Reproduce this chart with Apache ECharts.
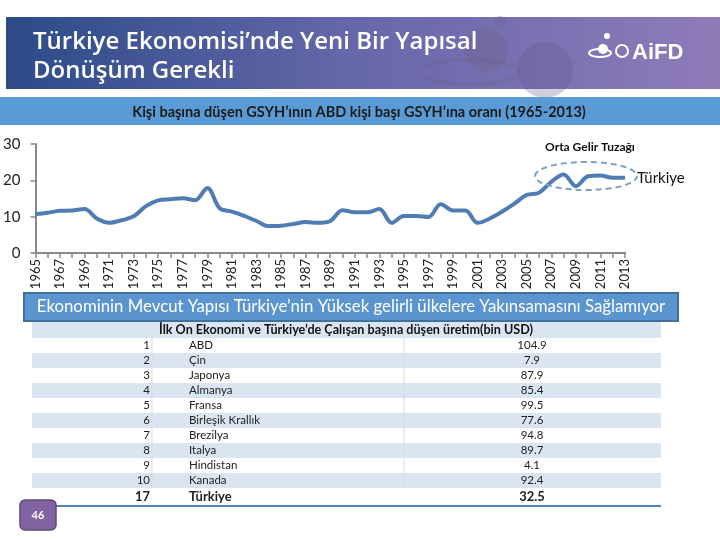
<!DOCTYPE html>
<html>
<head>
<meta charset="utf-8">
<script src="https://cdn.jsdelivr.net/npm/echarts@6/dist/echarts.min.js"></script>
<style>
  html, body { margin: 0; padding: 0; background: #fff; }
  #chart { width: 720px; height: 540px; }
</style>
</head>
<body>
<div id="chart"></div>
<script>
// Türkiye kişi başı GSYH / ABD kişi başı GSYH (%)
const years = ['1965','1966','1967','1968','1969','1970','1971','1972','1973','1974',
  '1975','1976','1977','1978','1979','1980','1981','1982','1983','1984',
  '1985','1986','1987','1988','1989','1990','1991','1992','1993','1994',
  '1995','1996','1997','1998','1999','2000','2001','2002','2003','2004',
  '2005','2006','2007','2008','2009','2010','2011','2012','2013'];
const ratioTR = [10.7, 11.1, 11.6, 11.7, 12.1, 9.5, 8.3, 9.0, 10.1, 12.9,
  14.5, 14.8, 15.1, 14.5, 17.9, 12.3, 11.4, 10.2, 8.8, 7.4,
  7.5, 8.0, 8.5, 8.3, 8.8, 11.8, 11.2, 11.2, 12.1, 8.3,
  10.2, 10.2, 9.9, 13.4, 11.7, 11.7, 8.3, 9.5, 11.4, 13.6,
  16.0, 16.6, 19.6, 21.6, 18.4, 21.1, 21.3, 20.7, 20.7];
const yTicks = [0, 10, 20, 30];

// tablo: ilk on ekonomi ve Türkiye
const ranks = ['1','2','3','4','5','6','7','8','9','10','17'];
const countries = ['ABD','Çin','Japonya','Almanya','Fransa','Birleşik Krallık','Brezilya','Italya','Hindistan','Kanada','Türkiye'];
const outputPerWorker = ['104.9','7.9','87.9','85.4','99.5','77.6','94.8','89.7','4.1','92.4','32.5'];

const FONT = 'Lato, "Open Sans", sans-serif';

const myChart = echarts.init(document.getElementById('chart'), null, { renderer: 'canvas' });

// başlık, bant ve tablo grafikleri
const graphics = [
  {
    type: 'rect', z: 0,
    shape: { x: 6, y: 17, width: 714, height: 72 },
    style: {
      fill: new echarts.graphic.LinearGradient(0, 0, 1, 0, [
        { offset: 0, color: '#2c4b88' },
        { offset: 0.5, color: '#6768ab' },
        { offset: 1, color: '#8f7bb8' }
      ])
    }
  },
  // arka plandaki soluk gezegen süsü
  { type: 'circle', shape: { cx: 486, cy: 50, r: 22 }, style: { fill: 'rgba(110,100,140,0.4)' } },
  { type: 'circle', shape: { cx: 545, cy: 70, r: 28 }, style: { fill: 'rgba(100,90,140,0.3)' } },
  { type: 'ellipse', shape: { cx: 470, cy: 72, rx: 50, ry: 12 }, style: { fill: 'none', stroke: 'rgba(110,100,140,0.3)', lineWidth: 4 } },
  { type: 'circle', shape: { cx: 500, cy: 22, r: 6 }, style: { fill: 'rgba(110,100,140,0.35)' } },
  {
    type: 'text',
    style: { x: 33, y: 42, text: 'Türkiye Ekonomisi’nde Yeni Bir Yapısal', fill: '#fff',
      font: '600 24px "Open Sans", sans-serif', textVerticalAlign: 'middle' }
  },
  {
    type: 'text',
    style: { x: 33, y: 71, text: 'Dönüşüm Gerekli', fill: '#fff',
      font: '600 24px "Open Sans", sans-serif', textVerticalAlign: 'middle' }
  },
  // AiFD logosu
  { type: 'ellipse', shape: { cx: 600, cy: 53, rx: 11, ry: 4 }, style: { fill: 'none', stroke: '#fff', lineWidth: 2 } },
  { type: 'circle', shape: { cx: 603, cy: 49, r: 5 }, style: { fill: '#fff' } },
  { type: 'circle', shape: { cx: 607, cy: 36, r: 3 }, style: { fill: '#fff' } },
  { type: 'circle', shape: { cx: 622, cy: 51, r: 6 }, style: { fill: 'none', stroke: '#fff', lineWidth: 2 } },
  {
    type: 'text',
    style: { x: 632, y: 53, text: 'AiFD', fill: '#fff',
      font: 'bold 22px Arial, "Liberation Sans", sans-serif', textVerticalAlign: 'middle' }
  },
  { type: 'rect', shape: { x: 0, y: 97, width: 720, height: 28 }, style: { fill: '#5b9bd5' } },
  {
    type: 'text',
    style: { x: 359, y: 112, text: 'Kişi başına düşen GSYH’ının ABD kişi başı GSYH’ına oranı (1965-2013)',
      fill: '#1b1b1b', font: 'bold 14.5px ' + FONT, textAlign: 'center', textVerticalAlign: 'middle' }
  },
  // orta gelir tuzağı işareti
  {
    type: 'ellipse', z: 10,
    shape: { cx: 586, cy: 176, rx: 51, ry: 14 },
    style: { fill: 'none', stroke: '#7ba3c2', lineWidth: 2, lineDash: [6, 4] }
  },
  {
    type: 'text',
    style: { x: 590, y: 147, text: 'Orta Gelir Tuzağı', fill: '#111',
      font: 'bold 12px ' + FONT, textAlign: 'center', textVerticalAlign: 'middle' }
  },
  // tablo başlık çubuğu
  {
    type: 'rect', shape: { x: 24, y: 293, width: 654, height: 28 },
    style: { fill: '#5b95d0', stroke: '#41709f', lineWidth: 2 }
  },
  {
    type: 'text',
    style: { x: 351, y: 307, text: 'Ekonominin Mevcut Yapısı Türkiye’nin Yüksek gelirli ülkelere Yakınsamasını Sağlamıyor',
      fill: '#fff', font: '16.8px ' + FONT, textAlign: 'center', textVerticalAlign: 'middle' }
  },
  { type: 'rect', shape: { x: 32, y: 322, width: 629, height: 16 }, style: { fill: '#dbe5f1' } },
  {
    type: 'text',
    style: { x: 346, y: 330, text: 'İlk On Ekonomi ve Türkiye’de Çalışan başına düşen üretim(bin USD)',
      fill: '#111', font: 'bold 12.6px ' + FONT, textAlign: 'center', textVerticalAlign: 'middle' }
  }
];

const rowTop = 338;
const rowH = 15;
ranks.forEach((rank, i) => {
  const last = i === ranks.length - 1;
  const y = rowTop + i * rowH;
  const h = last ? 17 : rowH;
  const cy = y + h / 2;
  const font = last ? 'bold 13px ' + FONT : '11.5px ' + FONT;
  if (i % 2 === 1) {
    graphics.push({ type: 'rect', shape: { x: 32, y: y, width: 629, height: h }, style: { fill: '#dbe5f1' } });
  }
  graphics.push(
    { type: 'text', style: { x: 150, y: cy, text: rank, fill: '#222', font: font, textAlign: 'right', textVerticalAlign: 'middle' } },
    { type: 'text', style: { x: 189, y: cy, text: countries[i], fill: '#222', font: font, textAlign: 'left', textVerticalAlign: 'middle' } },
    { type: 'text', style: { x: 532, y: cy, text: outputPerWorker[i], fill: '#222', font: font, textAlign: 'center', textVerticalAlign: 'middle' } }
  );
});
graphics.push(
  { type: 'line', shape: { x1: 152, y1: 338, x2: 152, y2: 488 }, style: { stroke: '#d3ddea', lineWidth: 1 } },
  { type: 'line', shape: { x1: 404, y1: 338, x2: 404, y2: 488 }, style: { stroke: '#d3ddea', lineWidth: 1 } },
  { type: 'line', shape: { x1: 32, y1: 506, x2: 661, y2: 506 }, style: { stroke: '#4f81bd', lineWidth: 2 } },
  {
    type: 'rect', shape: { x: 20, y: 500, width: 36, height: 30, r: 5 },
    style: { fill: '#8064a2', stroke: '#5f497a', lineWidth: 1.5 }
  },
  {
    type: 'text',
    style: { x: 38, y: 515, text: '46', fill: '#fff', font: 'bold 11px ' + FONT,
      textAlign: 'center', textVerticalAlign: 'middle' }
  }
);

const options = {
  backgroundColor: '#fff',
  animation: false,
  grid: {
    left: 34,
    right: 95,
    top: 144,
    bottom: 287
  },
  xAxis: {
    type: 'category',
    data: years,
    boundaryGap: false,
    axisLine: { lineStyle: { color: '#888', width: 2 } },
    axisTick: { show: true, interval: 0, length: 5, lineStyle: { color: '#888', width: 1.5 } },
    axisLabel: {
      interval: 1,
      rotate: 90,
      margin: 6,
      fontSize: 13,
      fontFamily: FONT,
      color: '#222'
    }
  },
  yAxis: {
    type: 'value',
    min: yTicks[0],
    max: yTicks[yTicks.length - 1],
    interval: 10,
    splitLine: { show: false },
    axisLine: { show: true, lineStyle: { color: '#888', width: 2 } },
    axisTick: { show: true, length: 5, lineStyle: { color: '#888', width: 1.5 } },
    axisLabel: {
      margin: 15,
      fontSize: 15,
      fontFamily: FONT,
      color: '#222'
    }
  },
  series: [
    {
      name: 'Türkiye',
      type: 'line',
      data: ratioTR,
      smooth: 0.35,
      showSymbol: false,
      lineStyle: { color: '#4f7cb3', width: 4 },
      itemStyle: { color: '#4f7cb3' },
      endLabel: {
        show: true,
        formatter: 'Türkiye',
        distance: 12,
        fontSize: 15,
        fontFamily: FONT,
        color: '#111'
      },
      z: 5
    }
  ],
  graphic: graphics
};

myChart.setOption(options);

// boyut uyarlama
window.addEventListener('resize', () => {
  myChart.resize();
});
</script>
</body>
</html>
